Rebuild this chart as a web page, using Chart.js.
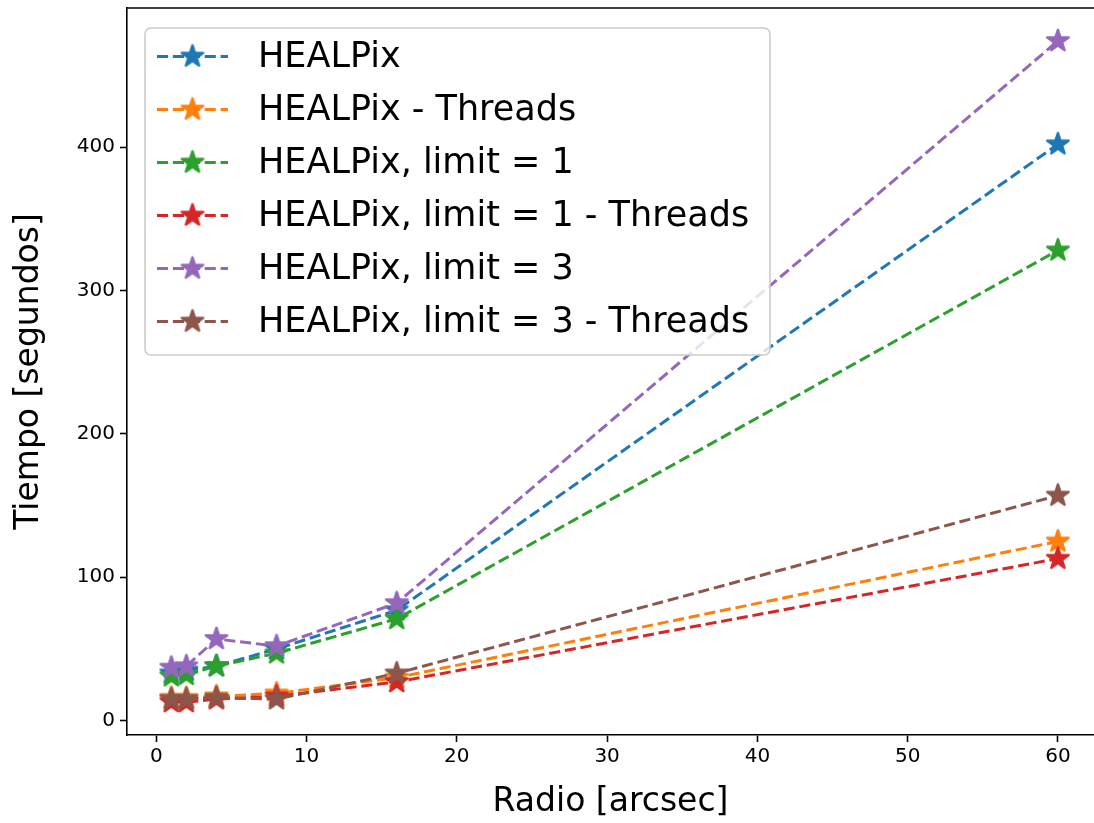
<!DOCTYPE html>
<html>
<head>
<meta charset="utf-8">
<script src="https://cdn.jsdelivr.net/npm/chart.js@4.4.1/dist/chart.umd.min.js"></script>
<style>
  html, body { margin: 0; padding: 0; background: #fff; overflow: hidden; }
  canvas { display: block; }
</style>
</head>
<body>
<canvas id="chart" width="1094" height="823"></canvas>
<script>
// radio de busqueda (arcsec) y tiempos medidos (s)
var radios = [1, 2, 4, 8, 16, 60];
var seriesNames = [
    "HEALPix",
    "HEALPix - Threads",
    "HEALPix, limit = 1",
    "HEALPix, limit = 1 - Threads",
    "HEALPix, limit = 3",
    "HEALPix, limit = 3 - Threads"
];
var tHealpix         = [33, 35, 38, 50, 77, 402];
var tHealpixThreads  = [16, 16, 17, 19, 30, 125];
var tLimit1          = [31, 32, 38, 47, 71, 328];
var tLimit1Threads   = [13, 13, 15, 17, 27, 113];
var tLimit3          = [37, 38, 57, 52, 82, 474];
var tLimit3Threads   = [15, 15, 16, 15, 33, 157];
var xTicks = [0, 10, 20, 30, 40, 50, 60];
var yTicks = [0, 100, 200, 300, 400];

var allSeries = [tHealpix, tHealpixThreads, tLimit1, tLimit1Threads, tLimit3, tLimit3Threads];
var colors = ["#1f77b4", "#ff7f0e", "#2ca02c", "#d62728", "#9467bd", "#8c564b"];
var FONT = "'DejaVu Sans', sans-serif";
var DASH = [11.1, 4.8];

function starImage(color) {
    var r = 12, pad = 3;
    var c = document.createElement("canvas");
    c.width = c.height = 2 * (r + pad);
    var g = c.getContext("2d");
    g.translate(r + pad, r + pad);
    g.beginPath();
    for (var k = 0; k < 10; k++) {
        var rad = k % 2 === 0 ? r : r * 0.381966;
        var a = -Math.PI / 2 + k * Math.PI / 5;
        g.lineTo(rad * Math.cos(a), rad * Math.sin(a));
    }
    g.closePath();
    g.fillStyle = color;
    g.fill();
    g.strokeStyle = color;
    g.lineWidth = 2;
    g.lineJoin = "bevel";
    g.stroke();
    return c;
}
var stars = colors.map(starImage);

var datasets = allSeries.map(function (vals, i) {
    return {
        label: seriesNames[i],
        data: vals.map(function (v, j) { return { x: radios[j], y: v }; }),
        borderColor: colors[i],
        backgroundColor: colors[i],
        borderWidth: 3,
        borderDash: DASH,
        tension: 0,
        fill: false,
        pointStyle: stars[i],
        pointRadius: 12,
        order: allSeries.length - i
    };
});

// marco superior y leyenda al estilo matplotlib (el eje derecho queda fuera de la imagen)
var framePlugin = {
    id: "frame",
    afterDatasetsDraw: function (chart) {
        var a = chart.chartArea, ctx = chart.ctx;
        ctx.save();
        ctx.strokeStyle = "#000";
        ctx.lineWidth = 1.6;
        ctx.beginPath();
        ctx.moveTo(a.left, a.top);
        ctx.lineTo(a.right, a.top);
        ctx.stroke();
        ctx.restore();
    },
    afterDraw: function (chart) {
        var ctx = chart.ctx;
        var bx = 145, by = 28, bw = 625, bh = 327, rr = 6;
        ctx.save();
        ctx.beginPath();
        ctx.roundRect(bx, by, bw, bh, rr);
        ctx.fillStyle = "rgba(255,255,255,0.8)";
        ctx.fill();
        ctx.strokeStyle = "#cccccc";
        ctx.lineWidth = 1.6;
        ctx.stroke();
        ctx.font = "35px " + FONT;
        ctx.textBaseline = "middle";
        ctx.textAlign = "left";
        for (var i = 0; i < seriesNames.length; i++) {
            var yy = 56.5 + i * 53;
            ctx.beginPath();
            ctx.setLineDash(DASH);
            ctx.strokeStyle = colors[i];
            ctx.lineWidth = 3;
            ctx.moveTo(157, yy);
            ctx.lineTo(228, yy);
            ctx.stroke();
            ctx.setLineDash([]);
            var s = stars[i];
            ctx.drawImage(s, 192.5 - s.width / 2, yy - s.height / 2);
            ctx.fillStyle = "#000";
            ctx.fillText(seriesNames[i], 258, yy + 1);
        }
        ctx.restore();
    }
};

var tickGrid = { drawOnChartArea: false, drawTicks: true, tickLength: 7, tickWidth: 1.6, tickColor: "#000" };
var axisBorder = { display: true, color: "#000", width: 1.6 };

new Chart(document.getElementById("chart"), {
    type: "line",
    data: { datasets: datasets },
    plugins: [framePlugin],
    options: {
        responsive: false,
        animation: false,
        layout: { autoPadding: false, padding: { top: 8, right: 0, left: 0, bottom: 0 } },
        plugins: { legend: { display: false }, tooltip: { enabled: false } },
        scales: {
            x: {
                type: "linear",
                min: -1.95,
                max: 62.4,
                afterBuildTicks: function (s) { s.ticks = xTicks.map(function (v) { return { value: v }; }); },
                afterFit: function (s) { s.height = 88; s.paddingLeft = 0; s.paddingRight = 0; },
                grid: tickGrid,
                border: axisBorder,
                ticks: { color: "#000", font: { family: FONT, size: 20 }, padding: 3, maxRotation: 0 },
                title: { display: true, text: "Radio [arcsec]", color: "#000", font: { family: FONT, size: 33 }, padding: { top: 0, bottom: 1 } }
            },
            y: {
                type: "linear",
                min: -10,
                max: 497,
                afterBuildTicks: function (s) { s.ticks = yTicks.map(function (v) { return { value: v }; }); },
                afterFit: function (s) { s.width = 127; s.paddingTop = 0; s.paddingBottom = 0; },
                grid: tickGrid,
                border: axisBorder,
                ticks: { color: "#000", font: { family: FONT, size: 20 }, padding: 5 },
                title: { display: true, text: "Tiempo [segundos]", color: "#000", font: { family: FONT, size: 33 }, padding: { top: 10, bottom: 0 } }
            }
        }
    }
});
</script>
</body>
</html>
